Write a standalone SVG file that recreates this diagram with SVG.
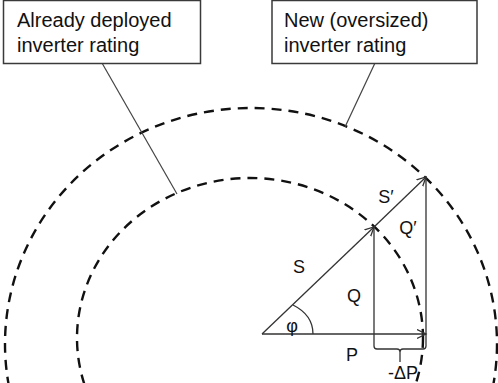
<svg xmlns="http://www.w3.org/2000/svg" width="498" height="383" viewBox="0 0 498 383">
<style>
.box{fill:#fff;stroke:#3a3a3a;stroke-width:1.5}
.bt{font-family:"Liberation Sans",Arial,sans-serif;font-size:20px;fill:#111}
.lbl{font-family:"Liberation Sans",Arial,sans-serif;font-size:18px;fill:#111;text-anchor:middle}
.call{stroke:#444;stroke-width:1.2;fill:none}
.dash{fill:none;stroke:#111;stroke-width:2.4;stroke-dasharray:10 7}
.vec{stroke:#333;stroke-width:1.3;fill:none}
</style>
<defs>
<marker id="arr" markerUnits="userSpaceOnUse" markerWidth="12" markerHeight="12" refX="9" refY="5" orient="auto">
<path d="M0,0.5 L9,5 L0,9.5" fill="none" stroke="#333" stroke-width="1.3"/>
</marker>
</defs>
<g id="circles">
<ellipse id="outer-rating" class="dash" cx="251" cy="344" rx="246" ry="236"/>
<ellipse id="inner-rating" class="dash" cx="250" cy="338" rx="173" ry="160"/>
</g>
<g id="connectors">
<line class="call" x1="102" y1="63" x2="177" y2="194"/>
<line class="call" x1="375" y1="63" x2="345" y2="127"/>
<line id="S" class="vec" x1="262" y1="334" x2="374" y2="227" marker-end="url(#arr)" stroke-width="1.6"/>
<line id="S2" class="vec" x1="374" y1="227" x2="426" y2="177" marker-end="url(#arr)"/>
<line id="P" class="vec" x1="262" y1="334" x2="426" y2="334" marker-end="url(#arr)"/>
<path id="Qbrace" class="vec" d="M374,227 L374,346 Q374,349 377,349 L397,349 Q400,349 400,352 L400,362 M400,352 Q400,349 403,349 L423,349 Q426,349 426,346 L426,177"/>
<path id="phi-arc" class="vec" d="M313,334 C313,321 305,311 293,305"/>
</g>
<g id="box-already">
<rect class="box" x="3.5" y="0.5" width="197" height="63"/>
<text class="bt" x="17" y="27">Already deployed</text>
<text class="bt" x="17" y="52">inverter rating</text>
</g>
<g id="box-new">
<rect class="box" x="272" y="0.5" width="205" height="63"/>
<text class="bt" x="284" y="27">New (oversized)</text>
<text class="bt" x="284" y="52">inverter rating</text>
</g>
<g id="labels">
<text class="lbl" x="299" y="273">S</text>
<text class="lbl" x="386" y="203">S′</text>
<text class="lbl" x="408" y="234">Q′</text>
<text class="lbl" x="354" y="302">Q</text>
<text class="lbl" x="292" y="332">φ</text>
<text class="lbl" x="352" y="361">P</text>
<text class="lbl" x="403" y="379">-ΔP</text>
</g>
</svg>
